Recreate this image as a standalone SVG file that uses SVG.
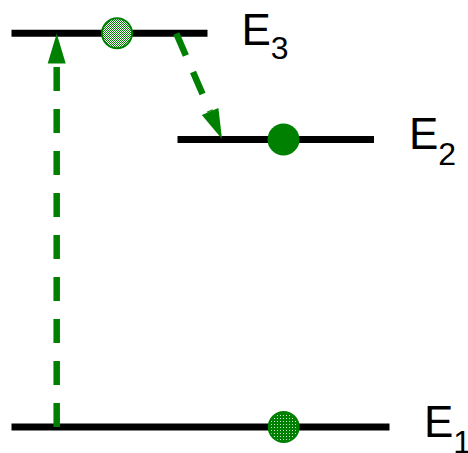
<svg xmlns="http://www.w3.org/2000/svg" width="468" height="453" viewBox="0 0 468 453">
  <defs>
    <pattern id="checker" width="2" height="2" patternUnits="userSpaceOnUse">
      <rect width="2" height="2" fill="#ffffff"/>
      <rect width="1" height="1" fill="#008000"/>
      <rect x="1" y="1" width="1" height="1" fill="#008000"/>
    </pattern>
    <pattern id="dots" width="3" height="3" patternUnits="userSpaceOnUse">
      <rect width="3" height="3" fill="#008000"/>
      <rect x="1" y="1" width="1" height="1" fill="#cfe8cf"/>
    </pattern>
    <style>
      .level { stroke: #000000; stroke-width: 7; fill: none; }
      .trans { stroke: #008000; stroke-width: 6.5; fill: none; stroke-dasharray: 24 18; }
      .head { fill: #008000; stroke: none; }
      .label { font-family: "Liberation Sans", Arial, sans-serif; font-size: 44px; fill: #000000; }
      .sub { font-size: 32px; }
      .dot { stroke: #008000; stroke-width: 2; }
    </style>
  </defs>

  <g id="level-E3">
    <line class="level" x1="11.5" y1="33.3" x2="207.5" y2="33.3"/>
    <text class="label" x="241.5" y="45">E<tspan class="sub" dy="13.5">3</tspan></text>
  </g>
  <g id="level-E2">
    <line class="level" x1="177.5" y1="139.5" x2="374" y2="139.5"/>
    <text class="label" x="409" y="148.5">E<tspan class="sub" dy="16">2</tspan></text>
  </g>
  <g id="level-E1">
    <line class="level" x1="11.5" y1="427" x2="389.5" y2="427"/>
    <text class="label" x="424" y="436.7">E<tspan class="sub" dy="16">1</tspan></text>
  </g>

  <g id="connectors">
    <path class="trans" d="M56.7,427 L56.7,63.3"/>
    <polygon class="head" points="56.7,33.5 47.7,63.5 65.7,63.5"/>
    <path class="trans" d="M176.3,33.5 L210.1,111.5"/>
    <polygon class="head" points="222,139 201.8,115.1 218.4,107.9"/>
  </g>

  <g id="electron-E3">
    <circle class="dot" cx="117" cy="33.3" r="15" fill="url(#checker)"/>
  </g>
  <g id="electron-E2">
    <circle cx="283.5" cy="139.5" r="16" fill="#008000"/>
  </g>
  <g id="electron-E1">
    <circle class="dot" cx="283.7" cy="427" r="15" fill="url(#dots)"/>
  </g>
</svg>
